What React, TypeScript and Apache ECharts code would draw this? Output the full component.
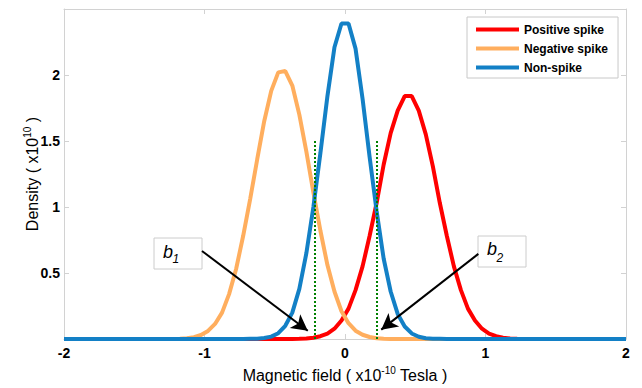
import React, { useEffect, useRef } from 'react';
import * as echarts from 'echarts';

const FONT = "'Liberation Sans', Arial, Helvetica, sans-serif";

const seriesNames = ['Positive spike', 'Negative spike', 'Non-spike'];
const seriesColors = ['#ff0000', '#ffae5e', '#1380c6'];

// [magnetic field (x1e-10 T), density (x1e10)]
const positiveSpike: [number, number][] = [
  [-2, 0], [-0.375, 0], [-0.325, 0.0015], [-0.275, 0.004], [-0.225, 0.01], [-0.175, 0.021],
  [-0.125, 0.041], [-0.075, 0.078], [-0.025, 0.14], [0.025, 0.23], [0.075, 0.37], [0.125, 0.55],
  [0.175, 0.78], [0.225, 1.03], [0.275, 1.32], [0.325, 1.56], [0.375, 1.73], [0.425, 1.84],
  [0.475, 1.84], [0.525, 1.73], [0.575, 1.55], [0.625, 1.31], [0.675, 1.03], [0.725, 0.78],
  [0.775, 0.55], [0.825, 0.37], [0.875, 0.23], [0.925, 0.14], [0.975, 0.078], [1.025, 0.041],
  [1.075, 0.021], [1.125, 0.01], [1.175, 0.004], [1.225, 0.0015], [1.275, 0], [2, 0],
];

const negativeSpike: [number, number][] = [
  [-2, 0], [-1.225, 0], [-1.175, 0.002], [-1.125, 0.006], [-1.075, 0.014], [-1.025, 0.03],
  [-0.975, 0.061], [-0.925, 0.114], [-0.875, 0.2], [-0.825, 0.34], [-0.775, 0.53], [-0.725, 0.78],
  [-0.675, 1.06], [-0.625, 1.36], [-0.575, 1.65], [-0.525, 1.88], [-0.475, 2.02], [-0.425, 2.03],
  [-0.375, 1.92], [-0.325, 1.7], [-0.275, 1.42], [-0.225, 1.11], [-0.175, 0.82], [-0.125, 0.56],
  [-0.075, 0.36], [-0.025, 0.21], [0.025, 0.12], [0.075, 0.063], [0.125, 0.032], [0.175, 0.015],
  [0.225, 0.006], [0.275, 0.002], [0.325, 0], [2, 0],
];

const nonSpike: [number, number][] = [
  [-2, 0], [-0.725, 0], [-0.675, 0.001], [-0.625, 0.002], [-0.575, 0.007], [-0.525, 0.018],
  [-0.475, 0.044], [-0.425, 0.1], [-0.375, 0.2], [-0.325, 0.38], [-0.275, 0.65], [-0.225, 1.0],
  [-0.175, 1.41], [-0.125, 1.84], [-0.075, 2.21], [-0.025, 2.39], [0.025, 2.39], [0.075, 2.2],
  [0.125, 1.82], [0.175, 1.38], [0.225, 0.97], [0.275, 0.61], [0.325, 0.36], [0.375, 0.19],
  [0.425, 0.095], [0.475, 0.042], [0.525, 0.017], [0.575, 0.006], [0.625, 0.002], [0.675, 0.001],
  [0.725, 0], [2, 0],
];

const xRange = [-2, 2];
const xInterval = 1;
const yRange = [0, 2.5];
const yInterval = 0.5;
const hiddenYLabels = [0, 2.5];

const boundaries = [-0.215, 0.225];
const boundaryTop = 1.5;

const arrowStarts: [number, number][] = [[-1.018, 0.667], [0.949, 0.645]];
const arrowEnds: [number, number][] = [[-0.265, 0.062], [0.258, 0.071]];

const GREY = '#d2d2d2';

export default function App() {
  const ref = useRef<HTMLDivElement>(null);

  useEffect(() => {
    const chart = echarts.init(ref.current!, null, { renderer: 'svg' });

    const sideAxisCommon = {
      axisLine: { show: true, onZero: false, lineStyle: { color: GREY, width: 1 } },
      axisTick: { show: true, inside: true, length: 5, lineStyle: { color: GREY } },
      splitLine: { show: false },
    };

    const nameRich = {
      a: { fontFamily: FONT, fontSize: 16, color: '#000', lineHeight: 20 },
      s: { fontFamily: FONT, fontSize: 10, color: '#000', verticalAlign: 'top', lineHeight: 11 },
    };

    const markLineData: any[] = [];
    boundaries.forEach((b) => {
      markLineData.push([
        { coord: [b, 0], symbol: 'none', lineStyle: { color: '#008000', width: 2, type: [2, 2] } },
        { coord: [b, boundaryTop], symbol: 'none' },
      ]);
    });
    arrowStarts.forEach((s, i) => {
      markLineData.push([
        { coord: s, symbol: 'none', lineStyle: { color: '#000', width: 2, type: 'solid' } },
        { coord: arrowEnds[i], symbol: 'arrow', symbolSize: [13, 16] },
      ]);
    });

    const dataSets = [positiveSpike, negativeSpike, nonSpike];

    const series: any[] = dataSets.map((d, i) => ({
      name: seriesNames[i],
      type: 'line',
      data: d,
      showSymbol: false,
      symbol: 'none',
      smooth: false,
      color: seriesColors[i],
      lineStyle: { color: seriesColors[i], width: 4 },
      z: 2 + i,
      xAxisIndex: 0,
      yAxisIndex: 0,
    }));
    series.push({
      name: 'annotations',
      type: 'line',
      data: [],
      xAxisIndex: 0,
      yAxisIndex: 0,
      z: 10,
      markLine: {
        silent: true,
        symbol: ['none', 'none'],
        label: { show: false },
        animation: false,
        data: markLineData,
      },
    });

    const labelBox = (x: number, y: number, sub: string, bY: number, sY: number) => ({
      type: 'group',
      z: 100,
      children: [
        {
          type: 'rect',
          shape: { x, y, width: 48, height: 31 },
          style: { fill: '#fff', stroke: '#cccccc', lineWidth: 1 },
        },
        {
          type: 'text',
          x: x + 9,
          y: bY,
          style: {
            text: 'b', fontFamily: FONT, fontSize: 18, fontStyle: 'italic', fill: '#000',
            align: 'left', verticalAlign: 'middle',
          },
        },
        {
          type: 'text',
          x: x + 18.5,
          y: sY,
          style: {
            text: sub, fontFamily: FONT, fontSize: 12, fontStyle: 'italic', fill: '#000',
            align: 'left', verticalAlign: 'middle',
          },
        },
      ],
    });

    chart.setOption({
      animation: false,
      backgroundColor: '#fff',
      textStyle: { fontFamily: FONT },
      grid: { left: 64, right: 16, top: 9, bottom: 46, containLabel: false },
      legend: {
        data: seriesNames,
        orient: 'vertical',
        left: 467,
        top: 17,
        icon: 'rect',
        itemWidth: 43,
        itemHeight: 4,
        itemGap: 6,
        padding: [6, 10, 4, 9],
        backgroundColor: '#fff',
        borderColor: '#c8c8c8',
        borderWidth: 1,
        borderRadius: 0,
        textStyle: { fontFamily: FONT, fontSize: 12, fontWeight: 'bold', color: '#000', lineHeight: 13 },
      },
      xAxis: [
        {
          type: 'value',
          min: xRange[0],
          max: xRange[1],
          interval: xInterval,
          position: 'bottom',
          ...sideAxisCommon,
          axisLabel: { color: '#000', fontFamily: FONT, fontSize: 14, fontWeight: 'bold', margin: 7 },
          name: '{a|Magnetic field ( x10}{s|-10}{a| Tesla )}',
          nameLocation: 'middle',
          nameGap: 26,
          nameMoveOverlap: false,
          nameTextStyle: { rich: nameRich },
        },
        {
          type: 'value',
          min: xRange[0],
          max: xRange[1],
          interval: xInterval,
          position: 'top',
          ...sideAxisCommon,
          axisLabel: { show: false },
        },
      ],
      yAxis: [
        {
          type: 'value',
          min: yRange[0],
          max: yRange[1],
          interval: yInterval,
          position: 'left',
          ...sideAxisCommon,
          axisLabel: {
            color: '#000', fontFamily: FONT, fontSize: 14, fontWeight: 'bold', margin: 4,
            formatter: (v: number) => (hiddenYLabels.includes(v) ? '' : String(v)),
          },
          name: '{a|Density ( x10}{s|10}{a| )}',
          nameLocation: 'middle',
          nameGap: 22,
          nameMoveOverlap: false,
          nameTextStyle: { rich: nameRich },
        },
        {
          type: 'value',
          min: yRange[0],
          max: yRange[1],
          interval: yInterval,
          position: 'right',
          ...sideAxisCommon,
          axisLabel: { show: false },
        },
      ],
      graphic: [
        labelBox(154, 238, '1', 252, 259),
        labelBox(478, 236, '2', 249, 258),
      ],
      series,
    });

    return () => chart.dispose();
  }, []);

  return (
    <div
      ref={ref}
      style={{ position: 'fixed', left: 0, top: 0, width: 642, height: 388, background: '#fff' }}
    />
  );
}
